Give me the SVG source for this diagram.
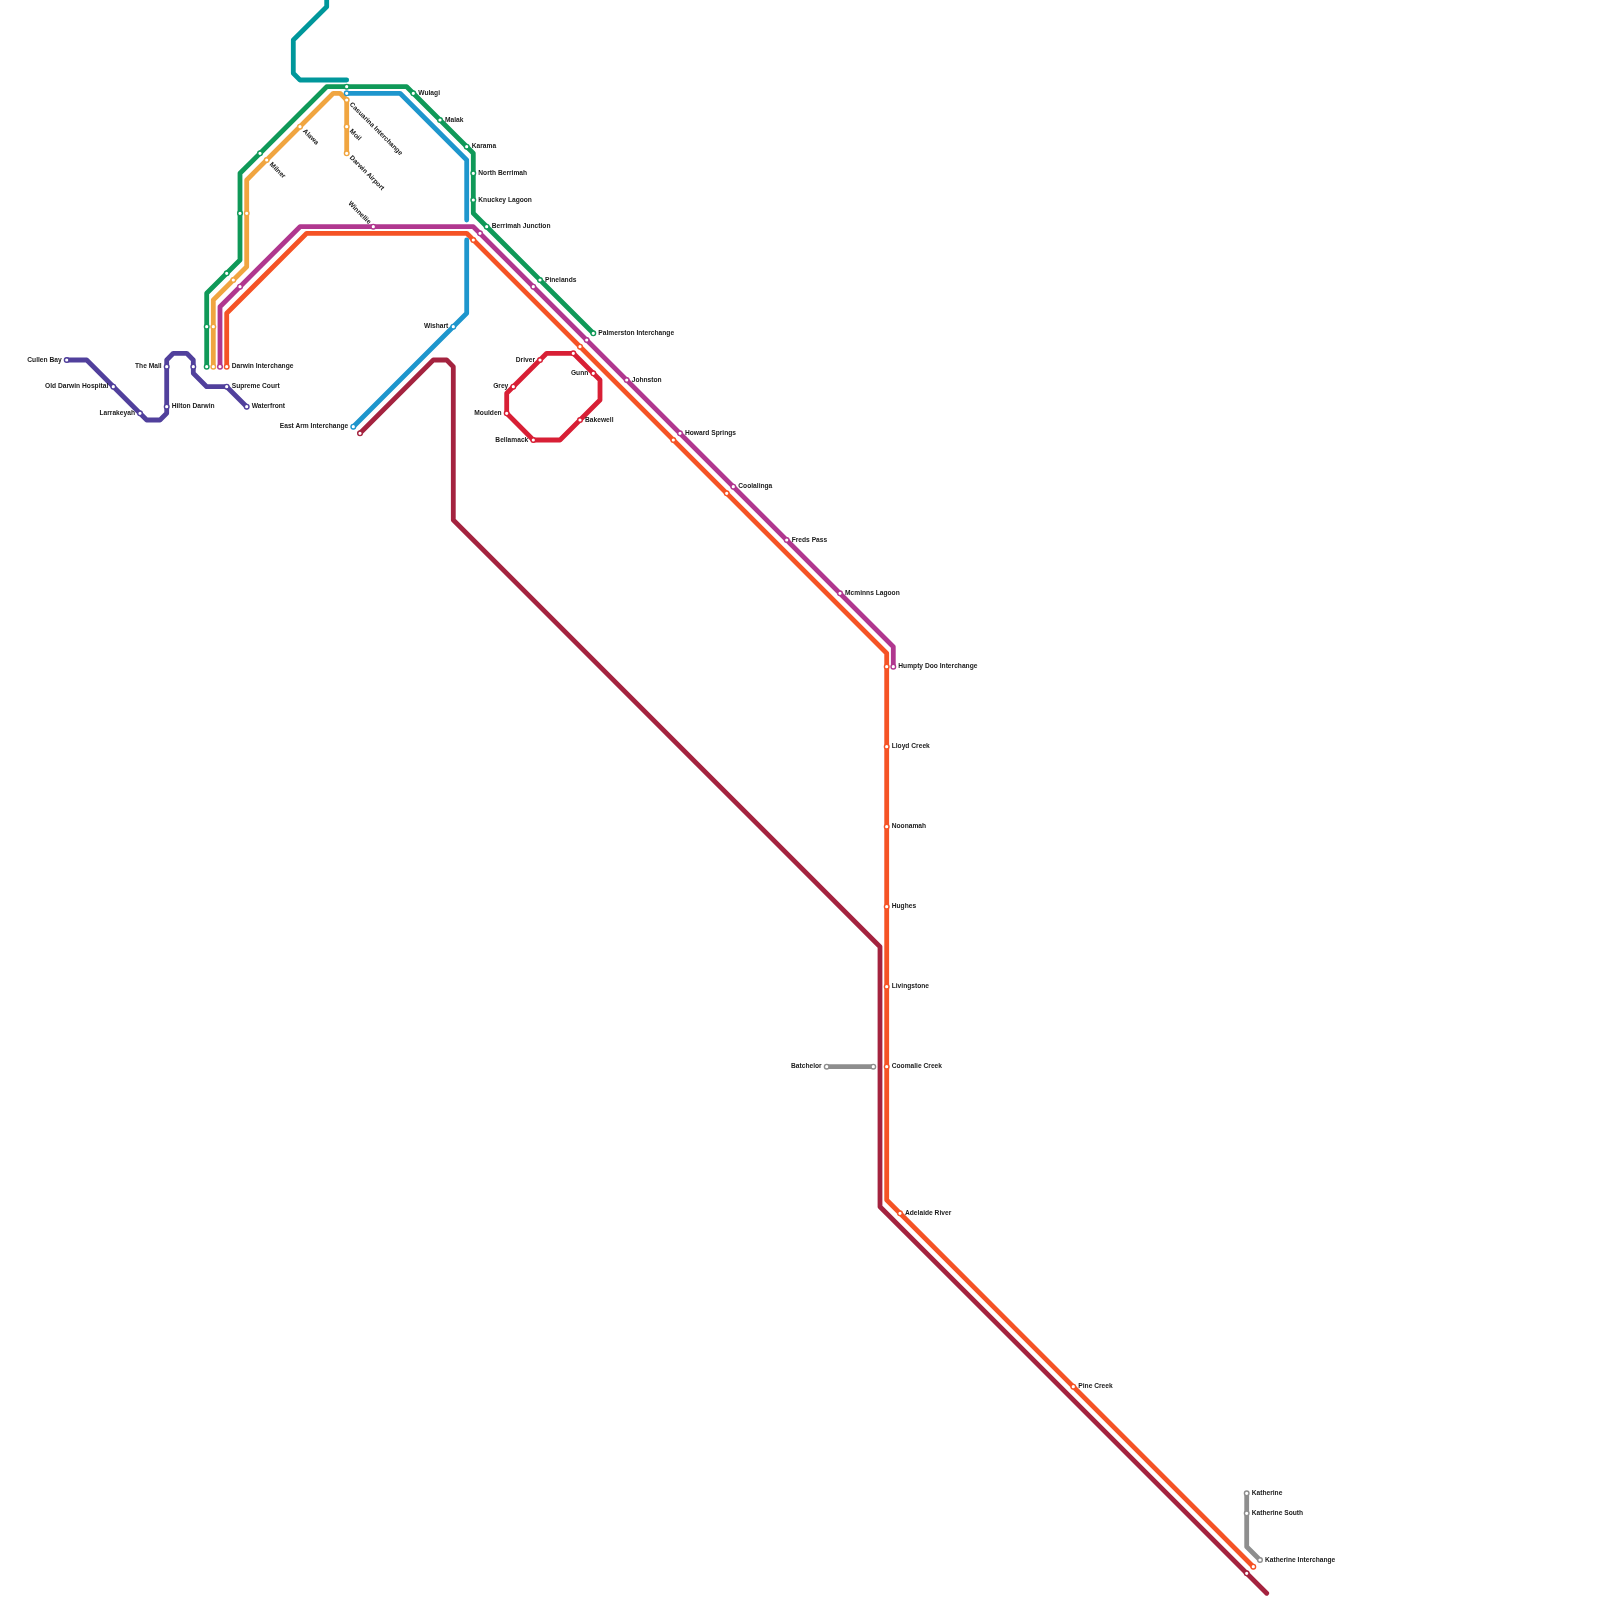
<svg xmlns="http://www.w3.org/2000/svg" width="1600" height="1600" viewBox="0 0 1600 1600">
<style>
svg{will-change:transform}
.l{fill:none;stroke-width:4.8;stroke-linecap:round;stroke-linejoin:round}
.s{fill:#fff;stroke-width:1.4}
text{font-family:"Liberation Sans",Arial,sans-serif;font-size:6.67px;font-weight:700;fill:#1a1a1a}
.e{text-anchor:end}
.in{stroke:#51409c}.gr{stroke:#0f9958}.ye{stroke:#f0a540}.pu{stroke:#b0378f}.or{stroke:#f55325}.bl{stroke:#1e96cd}.te{stroke:#00979b}.dr{stroke:#a4233f}.re{stroke:#d81f35}.gy{stroke:#8e8e8e}
</style>
<g id="connectors">
<path class="l te" d="M326.7-5V6.7L293.3 40V73.3L300 80H346.7"/>
<path class="l in" d="M66.7 360H86.7L146.7 420H160L166.7 413.3V360L173.3 353.3H186.7L193.3 360V373.3L206.7 386.7H226.7L246.7 406.7"/>
<path class="l gr" d="M206.7 366.7V293.3L240 260V173.3L326.7 86.7H406.7L473.3 153.3V213.3L593.3 333.3"/>
<path class="l ye" d="M213.3 366.7V300L246.7 266.7V180L333.3 93.3H340L346.7 100V153.3"/>
<path class="l pu" d="M220 366.7V306.7L300 226.7H473.3L893.3 646.7V666.7"/>
<path class="l or" d="M226.7 366.7V313.3L306.7 233.3H466.7L886.7 653.3V1200L1253.3 1566.7"/>
<path class="l bl" d="M346.7 93.3H400L466.7 160V220"/>
<path class="l bl" d="M466.7 240V313.3L353.3 426.7"/>
<path class="l dr" d="M360 433.3L433.3 360H446.7L453.3 366.7V520L880 946.7V1206.7L1266.7 1593.3"/>
<path class="l re" d="M546.7 353.3H573.3L600 380V400L560 440H533.3L506.7 413.3V393.3Z"/>
<path class="l gy" d="M826.7 1066.7H873.3"/>
<path class="l gy" d="M1246.7 1493.3V1546.7L1260 1560"/>
</g>
<g id="cullen-bay"><circle class="s in" cx="66.7" cy="360" r="2.3"/><text class="e" x="61.7" y="361.6">Cullen Bay</text></g>
<g id="old-darwin-hospital"><circle class="s in" cx="113.3" cy="386.7" r="2.3"/><text class="e" x="108.3" y="388.3">Old Darwin Hospital</text></g>
<g id="larrakeyah"><circle class="s in" cx="140" cy="413.3" r="2.3"/><text class="e" x="135" y="414.9">Larrakeyah</text></g>
<g id="the-mall"><circle class="s in" cx="166.7" cy="366.7" r="2.3"/><text class="e" x="161.7" y="368.3">The Mall</text></g>
<g id="hilton-darwin"><circle class="s in" cx="166.7" cy="406.7" r="2.3"/><text x="171.7" y="408.3">Hilton Darwin</text></g>
<g id="indigo-stop"><circle class="s in" cx="193.3" cy="366.7" r="2.3"/></g>
<g id="supreme-court"><circle class="s in" cx="226.7" cy="386.7" r="2.3"/><text x="231.7" y="388.3">Supreme Court</text></g>
<g id="waterfront"><circle class="s in" cx="246.7" cy="406.7" r="2.3"/><text x="251.7" y="408.3">Waterfront</text></g>
<g id="darwin-interchange"><circle class="s gr" cx="206.7" cy="366.7" r="2.3"/><circle class="s ye" cx="213.3" cy="366.7" r="2.3"/><circle class="s pu" cx="220" cy="366.7" r="2.3"/><circle class="s or" cx="226.7" cy="366.7" r="2.3"/><text x="231.7" y="368.3">Darwin Interchange</text></g>
<g id="stop-a"><circle class="s gr" cx="206.7" cy="326.7" r="2.3"/><circle class="s ye" cx="213.3" cy="326.7" r="2.3"/></g>
<g id="stop-b"><circle class="s gr" cx="226.7" cy="273.3" r="2.3"/><circle class="s ye" cx="233.3" cy="280" r="2.3"/><circle class="s pu" cx="240" cy="286.7" r="2.3"/></g>
<g id="stop-c"><circle class="s gr" cx="240" cy="213.3" r="2.3"/><circle class="s ye" cx="246.7" cy="213.3" r="2.3"/></g>
<g id="stop-d"><circle class="s gr" cx="260" cy="153.3" r="2.3"/></g>
<g id="milner"><circle class="s ye" cx="266.7" cy="160" r="2.3"/><text transform="translate(270.6 163.5) rotate(45)" y="1.8">Milner</text></g>
<g id="alawa"><circle class="s ye" cx="300" cy="126.7" r="2.3"/><text transform="translate(303.9 130.2) rotate(45)" y="1.8">Alawa</text></g>
<g id="casuarina-interchange"><circle class="s gr" cx="346.7" cy="86.7" r="2.3"/><circle class="s bl" cx="346.7" cy="93.3" r="2.3"/><circle class="s ye" cx="346.7" cy="100" r="2.3"/><text transform="translate(350.6 103.5) rotate(45)" y="1.8">Casuarina Interchange</text></g>
<g id="moil"><circle class="s ye" cx="346.7" cy="126.7" r="2.3"/><text transform="translate(350.6 130.2) rotate(45)" y="1.8">Moil</text></g>
<g id="darwin-airport"><circle class="s ye" cx="346.7" cy="153.3" r="2.3"/><text transform="translate(350.6 156.8) rotate(45)" y="1.8">Darwin Airport</text></g>
<g id="wulagi"><circle class="s gr" cx="413.3" cy="93.3" r="2.3"/><text x="418.3" y="94.9">Wulagi</text></g>
<g id="malak"><circle class="s gr" cx="440" cy="120" r="2.3"/><text x="445" y="121.6">Malak</text></g>
<g id="karama"><circle class="s gr" cx="466.7" cy="146.7" r="2.3"/><text x="471.7" y="148.3">Karama</text></g>
<g id="north-berrimah"><circle class="s gr" cx="473.3" cy="173.3" r="2.3"/><text x="478.3" y="174.9">North Berrimah</text></g>
<g id="knuckey-lagoon"><circle class="s gr" cx="473.3" cy="200" r="2.3"/><text x="478.3" y="201.6">Knuckey Lagoon</text></g>
<g id="berrimah-junction"><circle class="s gr" cx="486.7" cy="226.7" r="2.3"/><circle class="s pu" cx="480" cy="233.3" r="2.3"/><circle class="s or" cx="473.3" cy="240" r="2.3"/><text x="491.7" y="228.3">Berrimah Junction</text></g>
<g id="winnellie"><circle class="s pu" cx="373.3" cy="226.7" r="2.3"/><text class="e" transform="translate(369.8 223.2) rotate(45)" y="1.8">Winnellie</text></g>
<g id="pinelands"><circle class="s gr" cx="540" cy="280" r="2.3"/><circle class="s pu" cx="533.3" cy="286.7" r="2.3"/><text x="545" y="281.6">Pinelands</text></g>
<g id="palmerston-interchange"><circle class="s gr" cx="593.3" cy="333.3" r="2.3"/><circle class="s pu" cx="586.7" cy="340" r="2.3"/><circle class="s or" cx="580" cy="346.7" r="2.3"/><text x="598.3" y="334.9">Palmerston Interchange</text></g>
<g id="johnston"><circle class="s pu" cx="626.7" cy="380" r="2.3"/><text x="631.7" y="381.6">Johnston</text></g>
<g id="howard-springs"><circle class="s pu" cx="680" cy="433.3" r="2.3"/><circle class="s or" cx="673.3" cy="440" r="2.3"/><text x="685" y="434.9">Howard Springs</text></g>
<g id="coolalinga"><circle class="s pu" cx="733.3" cy="486.7" r="2.3"/><circle class="s or" cx="726.7" cy="493.3" r="2.3"/><text x="738.3" y="488.3">Coolalinga</text></g>
<g id="freds-pass"><circle class="s pu" cx="786.7" cy="540" r="2.3"/><text x="791.7" y="541.6">Freds Pass</text></g>
<g id="mcminns-lagoon"><circle class="s pu" cx="840" cy="593.3" r="2.3"/><text x="845" y="594.9">Mcminns Lagoon</text></g>
<g id="humpty-doo-interchange"><circle class="s or" cx="886.7" cy="666.7" r="2.3"/><circle class="s pu" cx="893.3" cy="666.7" r="2.3"/><text x="898.3" y="668.3">Humpty Doo Interchange</text></g>
<g id="lloyd-creek"><circle class="s or" cx="886.7" cy="746.7" r="2.3"/><text x="891.7" y="748.3">Lloyd Creek</text></g>
<g id="noonamah"><circle class="s or" cx="886.7" cy="826.7" r="2.3"/><text x="891.7" y="828.3">Noonamah</text></g>
<g id="hughes"><circle class="s or" cx="886.7" cy="906.7" r="2.3"/><text x="891.7" y="908.3">Hughes</text></g>
<g id="livingstone"><circle class="s or" cx="886.7" cy="986.7" r="2.3"/><text x="891.7" y="988.3">Livingstone</text></g>
<g id="coomalie-creek"><circle class="s or" cx="886.7" cy="1066.7" r="2.3"/><text x="891.7" y="1068.3">Coomalie Creek</text></g>
<g id="batchelor"><circle class="s gy" cx="826.7" cy="1066.7" r="2.3"/><text class="e" x="821.7" y="1068.3">Batchelor</text></g>
<g id="batchelor-end"><circle class="s gy" cx="873.3" cy="1066.7" r="2.3"/></g>
<g id="adelaide-river"><circle class="s or" cx="900" cy="1213.3" r="2.3"/><text x="905" y="1214.9">Adelaide River</text></g>
<g id="pine-creek"><circle class="s or" cx="1073.3" cy="1386.7" r="2.3"/><text x="1078.3" y="1388.3">Pine Creek</text></g>
<g id="katherine"><circle class="s gy" cx="1246.7" cy="1493.3" r="2.3"/><text x="1251.7" y="1494.9">Katherine</text></g>
<g id="katherine-south"><circle class="s gy" cx="1246.7" cy="1513.3" r="2.3"/><text x="1251.7" y="1514.9">Katherine South</text></g>
<g id="katherine-interchange"><circle class="s gy" cx="1260" cy="1560" r="2.3"/><circle class="s or" cx="1253.3" cy="1566.7" r="2.3"/><circle class="s dr" cx="1246.7" cy="1573.3" r="2.3"/><text x="1265" y="1561.6">Katherine Interchange</text></g>
<g id="east-arm-interchange"><circle class="s bl" cx="353.3" cy="426.7" r="2.3"/><circle class="s dr" cx="360" cy="433.3" r="2.3"/><text class="e" x="348.3" y="428.3">East Arm Interchange</text></g>
<g id="wishart"><circle class="s bl" cx="453.3" cy="326.7" r="2.3"/><text class="e" x="448.3" y="328.3">Wishart</text></g>
<g id="driver"><circle class="s re" cx="540" cy="360" r="2.3"/><text class="e" x="535" y="361.6">Driver</text></g>
<g id="red-stop"><circle class="s re" cx="573.3" cy="353.3" r="2.3"/></g>
<g id="gunn"><circle class="s re" cx="593.3" cy="373.3" r="2.3"/><text class="e" x="588.3" y="374.9">Gunn</text></g>
<g id="grey"><circle class="s re" cx="513.3" cy="386.7" r="2.3"/><text class="e" x="508.3" y="388.3">Grey</text></g>
<g id="moulden"><circle class="s re" cx="506.7" cy="413.3" r="2.3"/><text class="e" x="501.7" y="414.9">Moulden</text></g>
<g id="bakewell"><circle class="s re" cx="580" cy="420" r="2.3"/><text x="585" y="421.6">Bakewell</text></g>
<g id="bellamack"><circle class="s re" cx="533.3" cy="440" r="2.3"/><text class="e" x="528.3" y="441.6">Bellamack</text></g>
</svg>
